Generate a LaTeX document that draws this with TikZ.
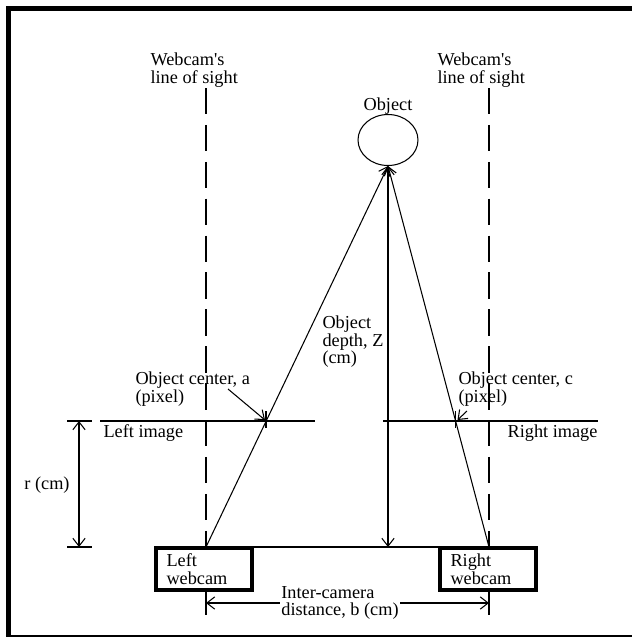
\documentclass[tikz,border=0pt]{standalone}
\usepackage{fontspec}
\setmainfont{Liberation Serif}
\usetikzlibrary{arrows.meta,positioning,calc,shapes.geometric}

\begin{document}
\begin{tikzpicture}[x=0.02cm,y=-0.02cm,line width=0.6pt,
  font=\fontsize{10.4}{10}\selectfont,
  >={Straight Barb[length=4.5pt,width=7pt]},
  sight/.style={dash pattern=on 15pt off 6pt},
  cam/.style={draw,line width=2.2pt,minimum width=1.92cm,minimum height=0.84cm,
    align=left,inner sep=0pt,text width=1.5cm},
  lbl/.style={align=left,inner sep=0pt}]
\useasboundingbox (0,0) rectangle (632,637);
% --- frame ---
\draw[line width=2.8pt] (8.5,636) -- (8.5,8.5) -- (632,8.5);
\draw[line width=0.8pt] (6,636) -- (632,636);
% --- object and webcams ---
\node[ellipse,draw,minimum width=1.2cm,minimum height=1.02cm,inner sep=0pt] (obj) at (388,140) {};
\node[lbl] (objtxt) at (388,106) {Object};
\node[cam] (lcam) at (204,569) {Left\\webcam};
\node[cam] (rcam) at (488,569) {Right\\webcam};
\coordinate (lbase) at (206,547);
\coordinate (rbase) at (489,547);
\coordinate (zbase) at (388,547);
\coordinate (ltop) at (206,88);
\coordinate (rtop) at (489,88);
% --- lines of sight ---
\draw[sight] (ltop) -- (lbase);
\draw[sight] (rtop) -- (rbase);
\node[lbl,anchor=south west] (lsighttxt) at (150,88) {Webcam\textquotesingle s\\line of sight};
\node[lbl,anchor=south west] (rsighttxt) at (437,88) {Webcam\textquotesingle s\\line of sight};
% --- rays and depth ---
\draw (lbase) -- (rbase);
\draw[<-] (obj.south) -- (lbase);
\draw[<-] (obj.south) -- (rbase);
\draw[<->] (obj.south) -- (zbase);
\node[lbl,anchor=west] (ztxt) at (322,342) {Object\\depth, Z\\(cm)};
% --- image planes ---
\coordinate (limgl) at (100,421);
\coordinate (limgr) at (315,421);
\coordinate (rimgl) at (383,421);
\coordinate (rimgr) at (598,421);
\draw (limgl) -- (limgr);
\draw (rimgl) -- (rimgr);
\node[lbl,anchor=north west] (limgtxt) at (103,424) {Left image};
\node[lbl,anchor=north east] (rimgtxt) at (598,424) {Right image};
\coordinate (apt) at (266,421);
\coordinate (cpt) at (455.5,421);
\draw ($(apt)+(0,-10)$) -- ($(apt)+(0,7)$);
\draw ($(cpt)+(0,-10)$) -- ($(cpt)+(0,7)$);
\node[lbl,anchor=west] (atxt) at (135,389) {Object center, a\\(pixel)};
\node[lbl,anchor=west] (ctxt) at (458,389) {Object center, c\\(pixel)};
\coordinate (afrom) at (228,389);
\coordinate (cfrom) at (467,411);
\draw[->] (afrom) -- ($(apt)+(-1,-1)$);
\draw[->] (cfrom) -- ($(cpt)+(2,-1)$);
% --- r dimension ---
\coordinate (rtopd) at (79,421);
\coordinate (rbotd) at (79,547);
\draw[<->] (rtopd) -- (rbotd);
\draw ($(rtopd)+(-12,0)$) -- ($(rtopd)+(13,0)$);
\draw ($(rbotd)+(-12,0)$) -- ($(rbotd)+(13,0)$);
\node[lbl] (rtxt) at (47,485) {r (cm)};
% --- inter-camera distance ---
\coordinate (bl) at (206,603);
\coordinate (br) at (489,603);
\draw ($(bl)+(0,-11)$) -- ($(bl)+(0,12)$);
\draw ($(br)+(0,-11)$) -- ($(br)+(0,12)$);
\draw[<->] (bl) -- (br);
\node[lbl,fill=white,inner sep=1pt] (btxt) at (340,603) {Inter-camera\\distance, b (cm)};
\end{tikzpicture}
\end{document}
